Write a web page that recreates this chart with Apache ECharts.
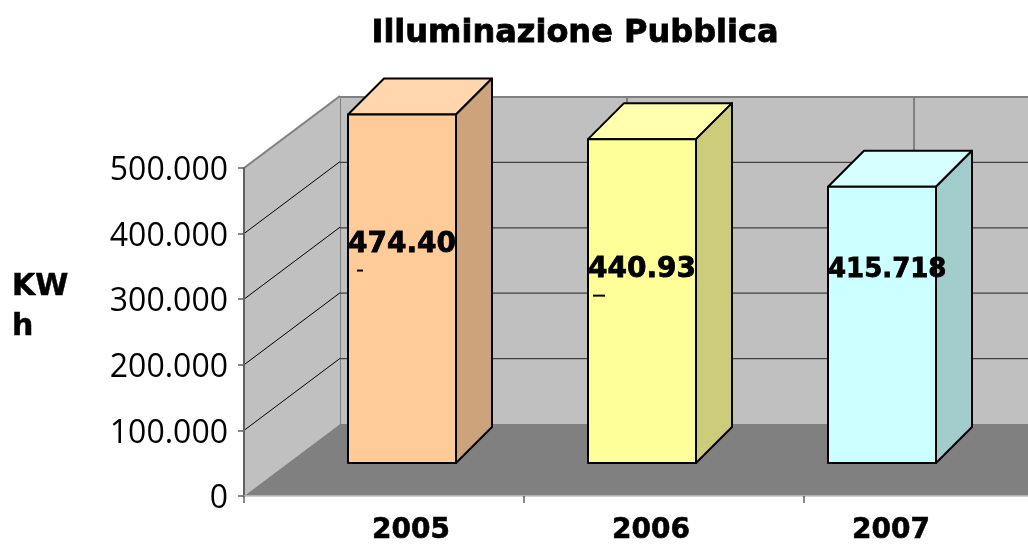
<!DOCTYPE html>
<html>
<head>
<meta charset="utf-8">
<title>Illuminazione Pubblica</title>
<style>
  html, body { margin: 0; padding: 0; background: #fff; }
  #chart { width: 1028px; height: 544px; }
</style>
<script src="https://cdn.jsdelivr.net/npm/echarts@6/dist/echarts.min.js"></script>
</head>
<body>
<div id="chart"></div>
<script>
const titleText = 'Illuminazione Pubblica'
const unitName = 'KW\nh'
const years = ['2005', '2006', '2007']
// values as printed on the bars (the first two are cut off in the picture)
const labelTexts = ['474.40', '440.93', '415.718']
// bar heights as drawn, on the bars' own scale (2007 is drawn shorter than its label says)
const barHeights = [474400, 440930, 376000]
const yTicks = [0, 100000, 200000, 300000, 400000, 500000]
const yTickLabels = ['0', '100.000', '200.000', '300.000', '400.000', '500.000']

const barColors = [
  { front: '#ffcc99', side: '#cca37a', top: '#ffd6ad' },
  { front: '#ffff99', side: '#cccc7a', top: '#ffffad' },
  { front: '#ccffff', side: '#a3cccc', top: '#d6ffff' }
]

const FONT = '"DejaVu Sans", sans-serif'
const WALL = '#c0c0c0'
const FLOOR = '#808080'
const EDGE = '#808080'
const BAR_DEPTH = 36
const WALL_DEPTH = [96, -72]
// the plot runs off the right edge of the page, so the x extents stop part way
const FRONT_X_MAX = 2.8
const BACK_X_MAX = 2.397
// distance from bar top to the middle of its label, and label size
const LABEL_DROP = [130, 131, 83]
const LABEL_SIZE = [28, 28, 26]

function line(p, q, stroke, lineWidth) {
  return {
    type: 'line',
    shape: { x1: p[0], y1: p[1], x2: q[0], y2: q[1] },
    style: { stroke: stroke, lineWidth: lineWidth, fill: null }
  }
}

function poly(points, fill, stroke) {
  return {
    type: 'polygon',
    shape: { points: points },
    style: { fill: fill, stroke: stroke || null, lineWidth: 2, lineJoin: 'round' }
  }
}

function renderBackWall(params, api) {
  const v = api.value(1)
  const max = yTicks[yTicks.length - 1]
  const children = []
  if (v === 0) {
    const a = api.coord([0, 0])
    const b = api.coord([BACK_X_MAX, max])
    children.push({
      type: 'rect',
      shape: { x: a[0], y: b[1], width: b[0] - a[0], height: a[1] - b[1] },
      style: { fill: WALL }
    })
    for (let i = 0; i < 3; i++) {
      children.push(line(api.coord([i, 0]), api.coord([i, max]), EDGE, 2))
    }
  } else if (v === max) {
    children.push(line(api.coord([0, v]), api.coord([BACK_X_MAX, v]), EDGE, 2))
  } else {
    children.push(line(api.coord([0, v]), api.coord([BACK_X_MAX, v]), '#404040', 1.3))
  }
  return { type: 'group', children: children }
}

function renderSideAndFloor(params, api) {
  const v = api.value(1)
  const max = yTicks[yTicks.length - 1]
  const back = p => [p[0] + WALL_DEPTH[0], p[1] + WALL_DEPTH[1]]
  const p = api.coord([0, v])
  const children = []
  if (v === 0) {
    const top = api.coord([0, max])
    const end = api.coord([FRONT_X_MAX, 0])
    children.push(poly([p, back(p), back(top), top], WALL))
    children.push(poly([p, back(p), back(end), end], FLOOR))
  } else if (v === max) {
    children.push(line(p, back(p), EDGE, 2))
  } else {
    children.push(line(p, back(p), '#000', 1))
  }
  return { type: 'group', children: children }
}

function renderBar(params, api) {
  const i = api.value(0)
  const c = barColors[i]
  const topMid = api.coord([i, api.value(1)])
  const baseMid = api.coord([i, 0])
  const w = api.size([1, 0])[0] * 0.45
  const l = topMid[0] - w / 2
  const r = topMid[0] + w / 2
  const t = topMid[1]
  const b = baseMid[1]
  const d = BAR_DEPTH
  const children = [
    poly([[l, t], [r, t], [r + d, t - d], [l + d, t - d]], c.top, '#000'),
    poly([[r, t], [r + d, t - d], [r + d, b - d], [r, b]], c.side, '#000'),
    poly([[l, t], [r, t], [r, b], [l, b]], c.front, '#000'),
    {
      type: 'text',
      style: {
        x: l,
        y: t + LABEL_DROP[i],
        text: labelTexts[i],
        fill: '#000',
        stroke: '#000',
        lineWidth: 0.8,
        font: 'bold ' + LABEL_SIZE[i] + 'px ' + FONT,
        align: 'left',
        verticalAlign: 'middle'
      }
    }
  ]
  // remains of the wrapped last digit, visible under the cut off labels
  if (i === 0) children.push(line([l + 9, t + 156], [l + 15, t + 156], '#000', 2))
  if (i === 1) children.push(line([l + 5, t + 156.5], [l + 17, t + 156.5], '#000', 2))
  return { type: 'group', children: children }
}

const chart = echarts.init(document.getElementById('chart'))
chart.setOption({
  animation: false,
  backgroundColor: '#fff',
  title: [
    {
      text: titleText,
      left: 570,
      top: 13,
      textAlign: 'center',
      textStyle: {
        fontFamily: FONT,
        fontWeight: 'bold',
        fontSize: 32,
        color: '#000',
        textBorderColor: '#000',
        textBorderWidth: 0.8
      }
    },
    {
      text: unitName,
      left: 12,
      top: 267,
      padding: 0,
      textStyle: {
        fontFamily: FONT,
        fontWeight: 'bold',
        fontSize: 30,
        lineHeight: 40,
        color: '#000',
        textBorderColor: '#000',
        textBorderWidth: 0.5
      }
    }
  ],
  grid: [
    { left: 244, top: 168, right: 0, height: 328, outerBoundsMode: 'none' },
    { left: 340, top: 97, right: 0, height: 327, outerBoundsMode: 'none' },
    { left: 282, top: 95.75, width: 720, height: 367.25, outerBoundsMode: 'none' }
  ],
  xAxis: [
    {
      gridIndex: 0,
      type: 'value',
      min: 0,
      max: FRONT_X_MAX,
      interval: 1,
      z: 5,
      splitLine: { show: false },
      axisLabel: { show: false },
      axisLine: { lineStyle: { color: '#c0c0c0', width: 1.5 } },
      axisTick: { length: 7, customValues: [0, 1, 2], lineStyle: { color: '#606060', width: 1.5 } }
    },
    { gridIndex: 1, type: 'value', min: 0, max: BACK_X_MAX, show: false },
    {
      gridIndex: 2,
      type: 'category',
      data: years,
      axisLine: { show: false },
      axisTick: { show: false },
      axisLabel: {
        margin: 54,
        padding: [0, 0, 0, 18],
        fontFamily: FONT,
        fontWeight: 'bold',
        fontSize: 28,
        color: '#000',
        textBorderColor: '#000',
        textBorderWidth: 0.6
      }
    }
  ],
  yAxis: [
    {
      gridIndex: 0,
      type: 'value',
      min: 0,
      max: 500000,
      interval: 100000,
      z: 5,
      splitLine: { show: false },
      axisLine: { show: true, lineStyle: { color: '#606060', width: 2 } },
      axisTick: { show: true, length: 6, lineStyle: { color: '#606060', width: 1.5 } },
      axisLabel: {
        margin: 16,
        fontFamily: '"Open Sans", sans-serif',
        fontSize: 32,
        color: '#000',
        formatter: v => '{t|' + yTickLabels[yTicks.indexOf(v)] + '}',
        rich: {
          t: {
            fontFamily: '"Open Sans", sans-serif',
            fontSize: 32,
            color: '#000',
            padding: [6, 0, 0, 0]
          }
        }
      }
    },
    { gridIndex: 1, type: 'value', min: 0, max: 500000, show: false },
    { gridIndex: 2, type: 'value', min: 0, max: 500000, show: false }
  ],
  series: [
    {
      type: 'custom',
      name: 'back wall',
      xAxisIndex: 1,
      yAxisIndex: 1,
      z: 1,
      silent: true,
      renderItem: renderBackWall,
      data: yTicks.map(v => [0, v])
    },
    {
      type: 'custom',
      name: 'side wall and floor',
      xAxisIndex: 0,
      yAxisIndex: 0,
      z: 1,
      silent: true,
      renderItem: renderSideAndFloor,
      data: yTicks.map(v => [0, v])
    },
    {
      type: 'custom',
      name: 'KWh',
      xAxisIndex: 2,
      yAxisIndex: 2,
      z: 3,
      silent: true,
      renderItem: renderBar,
      data: barHeights.map((v, i) => [i, v])
    }
  ]
})
</script>
</body>
</html>
